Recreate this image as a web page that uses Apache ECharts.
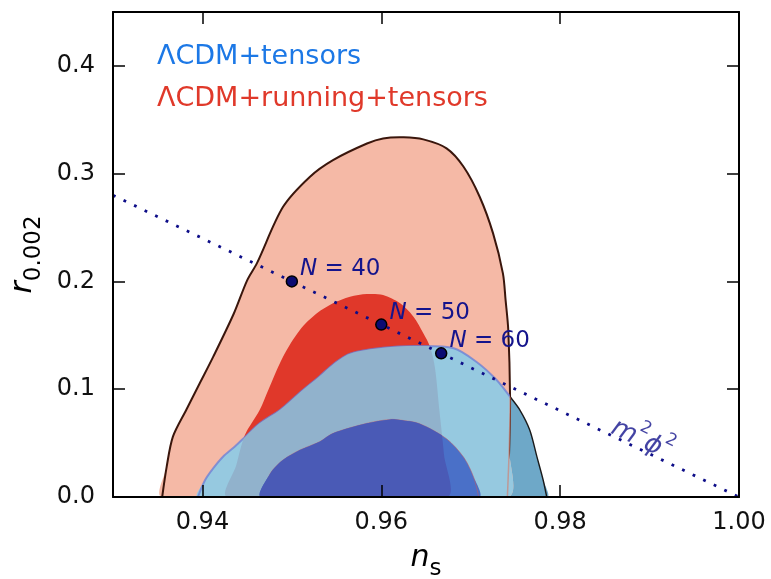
<!DOCTYPE html>
<html>
<head>
<meta charset="utf-8">
<script src="https://cdn.jsdelivr.net/npm/echarts@6/dist/echarts.min.js"></script>
<style>html,body{margin:0;padding:0;background:#fff}#c{width:771px;height:579px}</style>
</head>
<body>
<div id="c"></div>
<script>
// ---- data ----
const xTicks = [0.94, 0.96, 0.98, 1.00];
const yTicks = [0.0, 0.1, 0.2, 0.3, 0.4];
const legendLabels = ['\u039bCDM+tensors', '\u039bCDM+running+tensors'];

// ΛCDM+running+tensors, 95% contour [n_s, r]
const running95 = [[0.9355,0],[0.9360,0.028],[0.9367,0.056],[0.9382,0.081],[0.9397,0.1055],[0.9412,0.130],
  [0.9435,0.170],[0.9450,0.201],[0.9461,0.217],[0.9490,0.269],[0.9520,0.297],[0.9546,0.3126],[0.9584,0.328],
  [0.9602,0.3327],[0.9625,0.3337],[0.9647,0.3318],[0.9673,0.3235],[0.9692,0.3064],[0.9710,0.2786],[0.9725,0.2446],
  [0.9736,0.2075],[0.9739,0.1827],[0.9742,0.155],[0.9744,0.093],[0.9743,0.044],[0.9741,0]];
// ΛCDM+running+tensors, 68% contour
const running68 = [[0.9428,0],[0.9438,0.030],[0.94475,0.0575],[0.9464,0.0807],[0.9474,0.100],
  [0.9490,0.130],[0.9509,0.155],[0.9528,0.1704],[0.9546,0.1797],[0.9565,0.1858],[0.9584,0.1883],[0.9602,0.1874],
  [0.9621,0.1797],[0.9636,0.1673],[0.9647,0.1519],[0.96545,0.1394],[0.9660,0.120],[0.9665,0.080],[0.9670,0.040],[0.9673,0]];
// ΛCDM+tensors, 95% contour
const tensors95 = [[0.9395,0],[0.9403,0.0158],[0.9412,0.0266],[0.9423,0.0374],[0.9436,0.0467],[0.9448,0.056],
  [0.9464,0.0684],[0.9487,0.081],[0.9509,0.097],[0.9531,0.112],[0.9546,0.123],[0.9565,0.1330],[0.9602,0.1385],
  [0.9640,0.1400],[0.9681,0.138],[0.9707,0.125],[0.9729,0.1085],[0.9744,0.093],[0.9755,0.0807],[0.9766,0.0622],
  [0.9774,0.0374],[0.9781,0.0158],[0.9785,0]];
// ΛCDM+tensors, 68% contour
const tensors68 = [[0.9466,0],[0.9476,0.022],[0.9490,0.0343],[0.9509,0.0436],[0.9531,0.0513],[0.9546,0.0591],
  [0.9584,0.0684],[0.9610,0.0720],[0.9621,0.0714],[0.9643,0.068],[0.9673,0.054],[0.9692,0.037],[0.9703,0.019],[0.9709,0]];

// m^2 phi^2 prediction line and N points
const phiLineNs = [0.93, 1.00];
const phiLineR = [0.28, 0.0];
const nValues = [40, 50, 60];
const nPointNs = [0.95, 0.96, 0.9667];
const nPointR = [0.20, 0.16, 0.1333];
const phiLabelPos = [0.9893, 0.0560];

// ---- chart ----
const chart = echarts.init(document.getElementById('c'), null, {renderer: 'canvas'});
const FONT = '"DejaVu Sans", sans-serif';
const SMOOTH = 0.3;

function pts(contour, api) { return contour.map(p => api.coord(p)); }

function layer(contour, fill, opts) {
  opts = opts || {};
  return {
    type: 'custom', silent: true, clip: true, animation: false,
    data: [[0]], z: 2,
    renderItem: function (params, api) {
      const children = [];
      const clip = opts.clipBy ? {type: 'polygon', shape: {points: pts(opts.clipBy, api), smooth: SMOOTH}} : null;
      if (fill) {
        const poly = {type: 'polygon', shape: {points: pts(contour, api), smooth: SMOOTH}, style: {fill: fill}};
        if (clip) poly.clipPath = clip;
        children.push(poly);
      }
      if (opts.stroke) {
        const line = {type: 'polyline', shape: {points: pts(contour, api), smooth: SMOOTH},
          style: {fill: null, stroke: opts.stroke, lineWidth: opts.strokeWidth || 1.5}};
        if (clip) line.clipPath = {type: 'polygon', shape: {points: pts(opts.clipBy, api), smooth: SMOOTH}};
        children.push(line);
      }
      return {type: 'group', children: children};
    }
  };
}

function xAxisCfg(pos, labels) {
  return {
    type: 'value', position: pos, min: 0.93, max: 1.00, z: 10,
    axisLine: {show: true, onZero: false, lineStyle: {color: '#000', width: 2}},
    axisTick: {show: true, inside: true, length: 12, customValues: xTicks, lineStyle: {color: '#000', width: 1.5}},
    axisLabel: {show: labels, customValues: xTicks, margin: 14, color: '#111', fontSize: 24, fontFamily: FONT,
      formatter: v => v.toFixed(2)},
    splitLine: {show: false}
  };
}
function yAxisCfg(pos, labels) {
  return {
    type: 'value', position: pos, min: 0, max: 0.45, z: 10,
    axisLine: {show: true, onZero: false, lineStyle: {color: '#000', width: 2}},
    axisTick: {show: true, inside: true, length: 12, customValues: yTicks, lineStyle: {color: '#000', width: 1.5}},
    axisLabel: {show: labels, customValues: yTicks, margin: 18, color: '#111', fontSize: 24, fontFamily: FONT,
      formatter: v => v.toFixed(1)},
    splitLine: {show: false}
  };
}

const nameRich = {
  n: {fontSize: 30, fontStyle: 'italic', fontFamily: FONT, color: '#000', lineHeight: 38, verticalAlign: 'top'},
  s: {fontSize: 23, fontFamily: FONT, color: '#000', lineHeight: 22, verticalAlign: 'bottom'}
};
const xMain = xAxisCfg('bottom', true);
xMain.name = '{n|n}{s|s}';
xMain.nameLocation = 'middle';
xMain.nameGap = 46;
xMain.nameTextStyle = {rich: nameRich};
const yMain = yAxisCfg('left', true);
yMain.name = '{n|r}{s|0.002}';
yMain.nameLocation = 'middle';
yMain.nameGap = 64;
yMain.nameRotate = 90;
yMain.nameTextStyle = {rich: nameRich};

const option = {
  backgroundColor: '#fff',
  animation: false,
  grid: {left: 113, right: 32, top: 12, bottom: 82, containLabel: false, outerBoundsMode: 'none'},
  xAxis: [xMain, xAxisCfg('top', false)],
  yAxis: [yMain, yAxisCfg('right', false)],
  graphic: [
    {type: 'text', left: 157, top: 43, z: 20, style: {text: legendLabels[0], fill: '#1c78e6', font: '27px ' + FONT}},
    {type: 'text', left: 157, top: 85, z: 20, style: {text: legendLabels[1], fill: '#e0392a', font: '27px ' + FONT}}
  ],
  series: [
    layer(tensors95, '#6ea8c8', {stroke: '#1a1a1a', strokeWidth: 1.4}),
    layer(running95, '#f5b9a6', {stroke: '#3a160c', strokeWidth: 2}),
    layer(running68, '#e0382a'),
    layer(tensors95, '#96c9e0', {clipBy: running95, stroke: 'rgba(105,125,215,0.75)', strokeWidth: 2}),
    layer(tensors95, '#91b2cc', {clipBy: running68}),
    layer(running95, null, {clipBy: tensors95, stroke: 'rgba(215,120,100,0.6)', strokeWidth: 1.5}),
    layer(tensors68, '#4a70c8', {stroke: 'rgba(205,90,90,0.5)', strokeWidth: 1}),
    layer(tensors68, '#4a5ab6', {clipBy: running68}),
    {
      type: 'line', silent: true, symbol: 'none', z: 5,
      data: phiLineNs.map((x, i) => [x, phiLineR[i]]),
      lineStyle: {color: '#0d0d88', width: 2.8, type: [2.8, 8.9]}
    },
    {
      type: 'scatter', silent: true, z: 6, symbolSize: 11,
      data: nPointNs.map((x, i) => [x, nPointR[i], nValues[i]]),
      itemStyle: {color: '#0b0b72', borderColor: '#000', borderWidth: 1.5, opacity: 1},
      label: {show: true, position: 'right', distance: 2, offset: [0, -12],
        formatter: p => '{i|N} = ' + p.value[2],
        color: '#14148c', fontSize: 23, fontFamily: FONT,
        rich: {i: {fontStyle: 'italic', fontSize: 23, fontFamily: FONT, color: '#14148c'}}}
    },
    {
      type: 'scatter', silent: true, z: 6, symbolSize: 0,
      data: [phiLabelPos],
      label: {show: true, position: 'inside', rotate: -25.7,
        formatter: '{m|m}{p|2}{m|\u03d5}{p|2}',
        rich: {
          m: {fontSize: 26, fontStyle: 'italic', fontFamily: FONT, color: '#14148c', lineHeight: 34, verticalAlign: 'bottom'},
          p: {fontSize: 17, fontFamily: FONT, color: '#14148c', lineHeight: 17, verticalAlign: 'top'}
        }}
    }
  ]
};
chart.setOption(option);
</script>
</body>
</html>
